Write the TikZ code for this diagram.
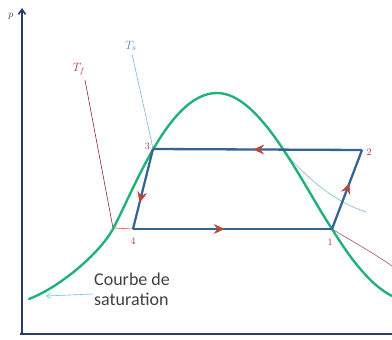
\documentclass[tikz,border=0pt]{standalone}
\usepackage{fontspec}
\newfontfamily\carl{Carlito}
\usetikzlibrary{arrows.meta,decorations.markings}
\definecolor{sat}{RGB}{32,178,120}
\definecolor{cyc}{RGB}{52,100,150}
\definecolor{arr}{RGB}{185,70,60}
\definecolor{lab}{RGB}{175,50,65}
\definecolor{tsc}{RGB}{125,180,220}
\definecolor{tfc}{RGB}{140,45,50}
\definecolor{axc}{RGB}{40,60,100}
\tikzset{
  cycline/.style={draw=cyc,line width=2.3pt,line join=miter},
  midarrow/.style={postaction={decorate,decoration={markings,
     mark=at position #1 with {\arrow[arr,line width=0.6pt]{Stealth[length=11pt,width=10pt,inset=4pt]}}}}},
  numlab/.style={text=lab,font=\fontsize{10}{10}\selectfont,inner sep=0pt},
}
\begin{document}
\begin{tikzpicture}[x=1pt,y=-1pt]
\useasboundingbox (0,0) rectangle (392,340);
% axes
\coordinate (o) at (22,334);
\coordinate (ytop) at (22,8);
\coordinate (xend) at (392,334);
\draw[axc,line width=1.6pt,-{Straight Barb[length=5pt,width=7pt]}] (o) -- (ytop);
\draw[axc,line width=1.6pt] (20,334) -- (xend);
\node[text=axc,font=\fontsize{10}{10}\selectfont,inner sep=0pt] (p) at (11,16) {$p$};
% cycle corners
\coordinate (c1) at (332,229);
\coordinate (c2) at (362,150);
\coordinate (c3) at (153,149);
\coordinate (c4) at (133,229);
% isotherm Ts
\coordinate (tsa) at (132,54);
\draw[tsc,line width=0.6pt] (tsa) .. controls (140,90) and (148,125) .. (c3);
\draw[tsc,line width=0.6pt] (283,151) .. controls (305,175) and (330,200) .. (366,212);
\node[text=cyc!80,font=\fontsize{12}{12}\selectfont,inner sep=0pt] (tsl) at (131,46) {$T_s$};
% isotherm Tf
\coordinate (tfa) at (85,80);
\coordinate (tfb) at (113,228);
\draw[tfc,line width=0.6pt] (tfa) -- (tfb);
\draw[red!70!white,line width=0.6pt] (tfb) -- (c4);
\draw[tfc!80,line width=0.6pt] (c1) .. controls (350,240) and (372,252) .. (392,266);
\node[text=lab,font=\fontsize{12}{12}\selectfont,inner sep=0pt] (tfl) at (79,69) {$T_f$};
% saturation curve
\draw[sat,line width=2.4pt,line cap=round] (29,299) .. controls (60,287) and (99,254) .. (113,229)
  .. controls (136,185) and (170,93) .. (217,93)
  .. controls (260,93) and (300,180) .. (332,229)
  .. controls (350,258) and (370,285) .. (392,296);
% cycle
\draw[cycline,midarrow=0.46] (c4) -- (c1);
\draw[cycline,midarrow=0.58] (c1) -- (c2);
\draw[cycline,midarrow=0.52] (c2) -- (c3);
\draw[cycline,midarrow=0.67] (c3) -- (c4);
% labels
\node[numlab,anchor=east] (l3) at (150,146) {3};
\node[numlab] (l2) at (369,152) {2};
\node[numlab] (l1) at (330,242) {1};
\node[numlab] (l4) at (133,241) {4};
% courbe de saturation
\node[anchor=north west,align=left,inner sep=0pt,text=black!75,
  font=\carl\fontsize{18}{20}\selectfont] (cs) at (94,273) {Courbe de\\saturation};
\coordinate (csp) at (46,296);
\draw[tsc!80!cyan,line width=0.6pt,-{Straight Barb[length=4pt,width=5pt]}] (93,294) -- (csp);
\end{tikzpicture}
\end{document}
